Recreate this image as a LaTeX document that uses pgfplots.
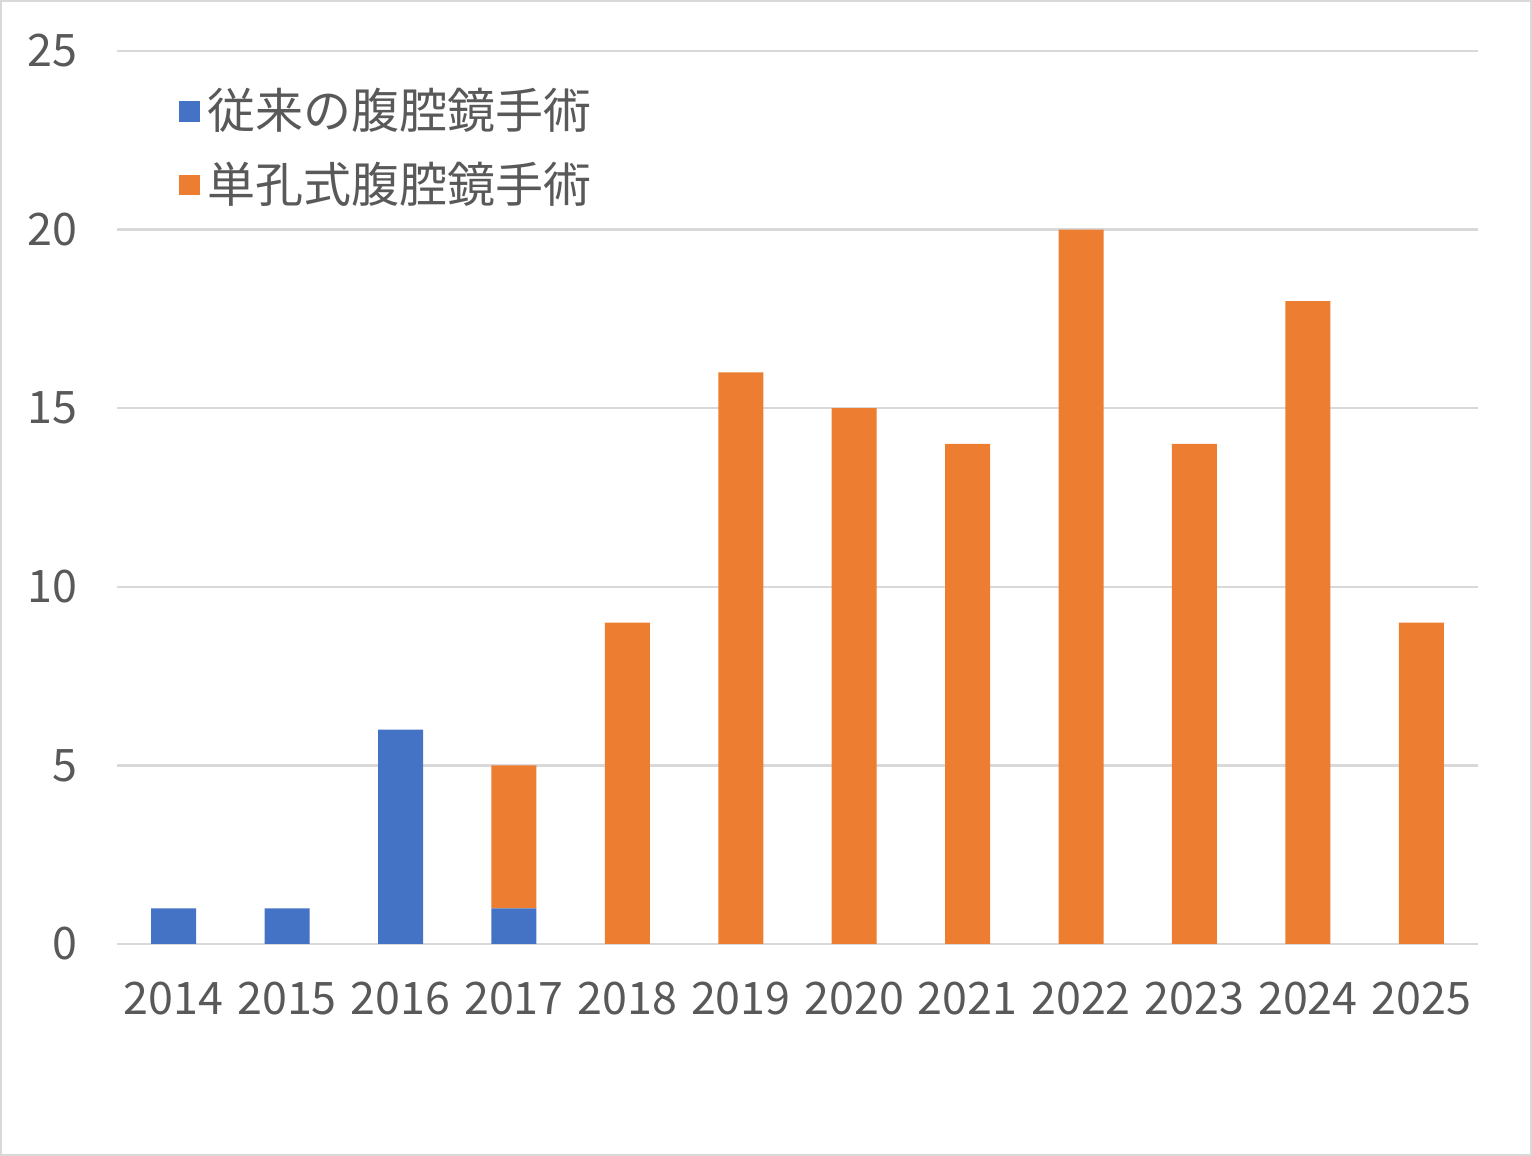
\documentclass[border=0pt]{standalone}
\usepackage{pgfplots}
\pgfplotsset{compat=1.18}
\usepackage{fontspec}
\setmainfont{Noto Sans CJK JP}
\definecolor{cblue}{HTML}{4472C4}
\definecolor{corange}{HTML}{ED7D31}
\definecolor{gridc}{HTML}{D9D9D9}
\definecolor{txt}{HTML}{595959}
\begin{document}
\begin{tikzpicture}[x=1pt,y=1pt]
\useasboundingbox (0,0) rectangle (383,289);
\draw[gridc,line width=0.6pt] (0.3,0.3) rectangle (382.7,288.7);
\begin{axis}[
  at={(29.25pt,53pt)}, anchor=south west,
  scale only axis, width=340.25pt, height=223.25pt,
  ybar stacked, bar width=11.25pt,
  xmin=-0.5, xmax=11.5, ymin=0, ymax=25,
  xtick={0,...,11},
  xticklabels={2014,2015,2016,2017,2018,2019,2020,2021,2022,2023,2024,2025},
  ytick={0,5,10,15,20,25},
  axis line style={draw=none},
  major tick length=0pt,
  ymajorgrids, grid style={gridc, line width=0.6pt},
  tick label style={font=\fontsize{11.2}{13}\selectfont, text=txt},
  /pgf/number format/assume math mode=true,
  yticklabel style={anchor=east, xshift=-6.5pt},
  xticklabel style={anchor=north, yshift=-6pt},
  legend style={at={(0.036,0.977)}, anchor=north west, draw=none, fill=none,
    font=\fontsize{12}{14}\selectfont, text=txt, row sep=2.75pt,
    legend cell align=left},
  legend image code/.code={\fill[#1] (0pt,-2.6pt) rectangle (5.2pt,2.6pt);},
]
\addplot[fill=cblue, draw=none] coordinates {(0,1) (1,1) (2,6) (3,1) (4,0) (5,0) (6,0) (7,0) (8,0) (9,0) (10,0) (11,0)};
\addplot[fill=corange, draw=none] coordinates {(0,0) (1,0) (2,0) (3,4) (4,9) (5,16) (6,15) (7,14) (8,20) (9,14) (10,18) (11,9)};
\legend{従来の腹腔鏡手術, 単孔式腹腔鏡手術}
\end{axis}
\end{tikzpicture}
\end{document}
